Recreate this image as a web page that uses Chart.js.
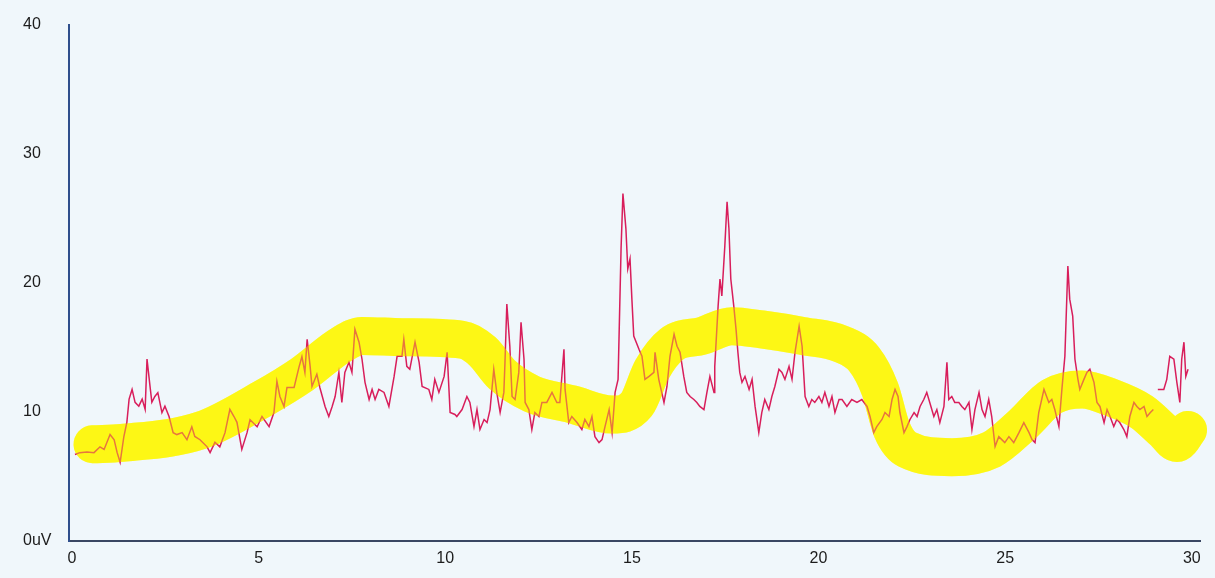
<!DOCTYPE html>
<html>
<head>
<meta charset="utf-8">
<title>uV trace</title>
<script src="https://cdn.jsdelivr.net/npm/chart.js@4.4.1/dist/chart.umd.min.js"></script>
<style>
  html, body { margin: 0; padding: 0; background: #f0f7fb; }
  #wrap { width: 1215px; height: 578px; }
</style>
</head>
<body>
<div id="wrap"><canvas id="traceChart" width="1215" height="578"></canvas></div>
<script>
// 原始信号 (时间, uV)
const signalTimes = [
  0.08, 0.21, 0.40, 0.59, 0.75, 0.86, 1.02, 1.13, 1.21, 1.29,
  1.39, 1.47, 1.53, 1.61, 1.69, 1.79, 1.88, 1.96, 2.01, 2.09,
  2.14, 2.22, 2.30, 2.41, 2.49, 2.60, 2.71, 2.81, 2.95, 3.08,
  3.21, 3.29, 3.43, 3.62, 3.70, 3.83, 3.96, 4.10, 4.23, 4.34,
  4.42, 4.55, 4.69, 4.77, 4.96,
  5.09, 5.28, 5.41, 5.49, 5.57, 5.68, 5.76, 5.95, 6.08, 6.16,
  6.24, 6.30, 6.38, 6.43, 6.56, 6.64, 6.78, 6.88, 6.97, 7.05,
  7.15, 7.23, 7.31, 7.42, 7.50, 7.58, 7.69, 7.77, 7.85, 7.96,
  8.04, 8.12, 8.22, 8.36, 8.49, 8.63, 8.71, 8.84, 8.89, 8.97,
  9.05, 9.19, 9.30, 9.38, 9.56, 9.64, 9.72, 9.83, 9.97, 10.05,
  10.13, 10.26,
  10.31, 10.45, 10.58, 10.66, 10.77, 10.85, 10.93, 11.04, 11.12, 11.20,
  11.30, 11.38, 11.47, 11.57, 11.60, 11.65, 11.73, 11.79, 11.87, 11.97,
  12.03, 12.11, 12.14, 12.24, 12.32, 12.40, 12.51, 12.59, 12.72, 12.86,
  12.99, 13.07, 13.18, 13.21, 13.31, 13.39, 13.53, 13.66, 13.74, 13.85,
  13.93, 14.01, 14.12, 14.20, 14.28, 14.39, 14.47, 14.55, 14.63, 14.71,
  14.76, 14.84, 14.89, 14.95, 15.00, 15.05, 15.19, 15.27, 15.35, 15.46,
  15.59,
  15.62, 15.72, 15.86, 15.94, 16.02, 16.13, 16.21, 16.29, 16.39, 16.47,
  16.56, 16.66, 16.74, 16.82, 16.93, 17.01, 17.09, 17.20, 17.22, 17.31,
  17.36, 17.41, 17.49, 17.55, 17.60, 17.65, 17.73, 17.79, 17.84, 17.89,
  17.95, 18.03, 18.14, 18.22, 18.30, 18.40, 18.48, 18.56, 18.67, 18.75,
  18.83, 18.94, 19.02, 19.10, 19.21, 19.29, 19.37, 19.48, 19.56, 19.64,
  19.74, 19.82, 19.90, 20.01, 20.09, 20.17, 20.28, 20.36, 20.44, 20.55,
  20.63, 20.76, 20.89, 21.03, 21.16, 21.30, 21.38, 21.48, 21.56, 21.70,
  21.78, 21.89, 21.97, 22.05, 22.13, 22.18, 22.29, 22.37, 22.45, 22.56,
  22.64, 22.72, 22.82, 22.90, 22.98, 23.09, 23.17, 23.25, 23.36, 23.44,
  23.49, 23.57, 23.65, 23.76, 23.84, 23.92, 24.03, 24.11, 24.19, 24.30,
  24.38, 24.46, 24.56, 24.64, 24.73, 24.83, 24.91, 24.99, 25.10, 25.23,
  25.37, 25.50, 25.64,
  25.72, 25.80, 25.90, 26.04, 26.17, 26.25, 26.33, 26.44, 26.52, 26.60,
  26.68, 26.73, 26.81, 26.87, 26.95, 27.00, 27.11, 27.19, 27.27, 27.38,
  27.46, 27.54, 27.65, 27.73, 27.81, 27.91, 27.99, 28.07, 28.18, 28.26,
  28.34, 28.45, 28.53, 28.61, 28.72, 28.80, 28.89, 28.97, 29.03, 29.09,
  29.25, 29.33, 29.41, 29.52, 29.60, 29.68, 29.73, 29.79, 29.84, 29.90
];
const signalValues = [
  6.7, 6.85, 6.9, 6.85, 7.3, 7.1, 8.25, 7.85, 6.85, 6.1,
  8.1, 9.2, 11.0, 11.75, 10.75, 10.45, 11.0, 10.2, 14.1, 12.0,
  10.75, 11.2, 11.5, 9.95, 10.45, 9.65, 8.4, 8.25, 8.4, 7.85,
  8.85, 8.1, 7.85, 7.3, 6.85, 7.65, 7.3, 8.4, 10.2, 9.65,
  9.2, 7.1, 8.4, 9.4, 8.85,
  9.65, 8.87, 9.96, 12.37, 11.2, 10.43, 11.9, 11.9, 13.46, 14.3,
  13.07, 15.64, 13.54, 11.98, 12.92, 11.9, 10.43, 9.65, 10.43, 11.2,
  13.07, 10.74, 13.07, 13.85, 13.07, 16.42, 15.41, 14.09, 12.3, 10.97,
  11.75, 10.97, 11.75, 11.52, 10.43, 12.76, 14.32, 14.32, 15.64, 13.54,
  13.31, 15.41, 13.85, 11.98, 11.75, 10.97, 12.53, 11.52, 12.76, 14.63,
  9.96, 9.81,
  9.65, 10.19, 11.2, 10.74, 8.87, 10.19, 8.64, 9.42, 9.18, 10.19,
  13.31, 11.52, 9.96, 11.52, 13.85, 18.37, 15.1, 11.2, 10.97, 13.07,
  16.96, 14.09, 10.74, 10.19, 8.64, 9.96, 9.65, 10.74, 10.74, 11.52,
  10.74, 10.74, 14.86, 11.75, 9.18, 9.65, 9.18, 8.64, 9.42, 8.87,
  9.65, 8.09, 7.63, 7.86, 8.87, 10.19, 8.4, 11.52, 12.53, 22.65,
  26.93, 24.2, 21.09, 21.87, 18.75, 15.88, 14.86, 14.32, 12.53, 12.76,
  13.07,
  14.63, 12.53, 10.74, 11.98, 14.32, 16.03, 15.1, 14.63, 12.76, 11.52,
  11.2, 10.97, 10.74, 10.43, 10.19, 11.52, 12.76, 11.52, 13.54, 18.21,
  20.31, 18.99, 22.88, 26.3, 24.2, 20.31, 18.21, 16.42, 14.63, 13.07,
  12.3, 12.76, 11.75, 12.53, 10.43, 8.4, 9.96, 10.97, 10.19, 11.2,
  11.98, 13.31, 13.07, 12.53, 13.54, 12.53, 14.63, 16.65, 15.1, 11.2,
  10.43, 10.97, 10.74, 11.2, 10.74, 11.52, 10.43, 11.2, 9.96, 10.97,
  10.97, 10.43, 10.97, 10.74, 10.97, 10.43, 9.65, 8.4, 8.87, 9.42,
  9.96, 9.65, 10.97, 11.75, 11.2, 9.96, 8.4, 8.87, 9.42, 9.96,
  9.65, 10.43, 10.97, 11.52, 10.74, 9.65, 10.19, 9.18, 10.43, 13.85,
  10.97, 11.2, 10.74, 10.74, 10.43, 10.19, 10.74, 8.64, 10.19, 11.52,
  10.19, 9.65, 10.97, 9.65, 7.32, 8.09, 7.86, 7.63, 8.09, 7.63,
  8.4, 9.18, 8.4,
  7.86, 7.63, 9.96, 11.75, 10.74, 10.97, 10.19, 8.87, 11.75, 14.32,
  21.32, 18.75, 17.43, 14.09, 12.53, 11.75, 12.53, 13.07, 13.31, 12.3,
  10.74, 10.43, 9.18, 10.19, 9.65, 8.87, 9.42, 9.18, 8.64, 8.09,
  9.65, 10.74, 10.43, 10.19, 10.43, 9.65, 9.96, 10.19, null, 11.75,
  11.75, 12.53, 14.32, 14.09, 12.3, 10.74, 14.09, 15.41, 12.76, 13.31
];

// 手绘的黄色趋势带
const bandTimes = [
  0.55, 1.34, 3.48, 5.09, 6.16, 7.23, 7.77, 8.84, 10.45, 11.0,
  11.52, 12.32, 13.39, 14.47, 15.13, 15.54, 16.07, 16.88, 17.68, 18.48,
  19.56, 20.63, 21.22, 21.65, 21.97, 22.37, 23.57, 24.64, 25.45, 26.25,
  27.06, 27.86, 28.66, 29.25, 29.6, 29.9
];
const bandValues = [
  7.5, 7.6, 8.6, 11.0, 12.9, 15.25, 15.9, 15.8, 15.6, 14.7,
  12.9, 11.4, 10.6, 9.8, 10.6, 13.3, 15.25, 15.9, 16.65, 16.4,
  15.9, 15.25, 14.1, 11.75, 8.6, 7.1, 6.5, 7.1, 9.0, 11.2,
  11.75, 11.1, 10.0, 8.5, 7.6, 8.6
];

// 坐标轴刻度
const xTickValues = [0, 5, 10, 15, 20, 25, 30];
const xTickLabels = ['0', '5', '10', '15', '20', '25', '30'];
const yTickValues = [0, 10, 20, 30, 40];
const yTickLabels = ['0uV', '10', '20', '30', '40'];

const signalData = signalTimes.map((t, i) => ({ x: t, y: signalValues[i] }));
const bandData = bandTimes.map((t, i) => ({ x: t, y: bandValues[i] }));

// 黄色带：底层实色 + 顶层半透明，模拟荧光笔压在红线上的效果
function bandDataset(color, order) {
    return {
        data: bandData,
        borderColor: color,
        borderWidth: 38,
        borderCapStyle: 'round',
        borderJoinStyle: 'round',
        cubicInterpolationMode: 'monotone',
        pointRadius: 0,
        fill: false,
        clip: false,
        order: order
    };
}

const tickFont = { family: "'Liberation Sans', Arial, sans-serif", size: 16 };

new Chart(document.getElementById('traceChart'), {
    type: 'line',
    data: {
        datasets: [
            bandDataset('rgba(255, 250, 20, 0.4)', 0),
            {
                data: signalData,
                borderColor: '#d81e5b',
                borderWidth: 1.5,
                tension: 0,
                pointRadius: 0,
                spanGaps: false,
                fill: false,
                order: 1
            },
            bandDataset('#fcf617', 2)
        ]
    },
    options: {
        responsive: false,
        animation: false,
        layout: { padding: { left: 23, top: 25, right: 15, bottom: 0 } },
        plugins: {
            legend: { display: false },
            tooltip: { enabled: false }
        },
        scales: {
            x: {
                type: 'linear',
                min: -0.08,
                max: 30.22,
                afterBuildTicks: scale => {
                    scale.ticks = xTickValues.map(v => ({ value: v }));
                },
                afterFit: scale => { scale.height = 37; },
                grid: { display: false, drawTicks: false },
                border: { display: true, color: '#3a4763', width: 2 },
                ticks: {
                    padding: 8,
                    maxRotation: 0,
                    color: '#1c1c1c',
                    font: tickFont,
                    callback: function(value) {
                        const i = xTickValues.indexOf(value);
                        return i >= 0 ? xTickLabels[i] : '';
                    }
                }
            },
            y: {
                min: 0,
                max: 40,
                afterBuildTicks: scale => {
                    scale.ticks = yTickValues.map(v => ({ value: v }));
                },
                afterFit: scale => { scale.width = 46; },
                grid: { display: false, drawTicks: false },
                border: { display: true, color: '#2f4f8c', width: 2 },
                ticks: {
                    crossAlign: 'far',
                    color: '#1c1c1c',
                    font: tickFont,
                    callback: function(value) {
                        const i = yTickValues.indexOf(value);
                        return i >= 0 ? yTickLabels[i] : '';
                    }
                }
            }
        }
    }
});
</script>
</body>
</html>
